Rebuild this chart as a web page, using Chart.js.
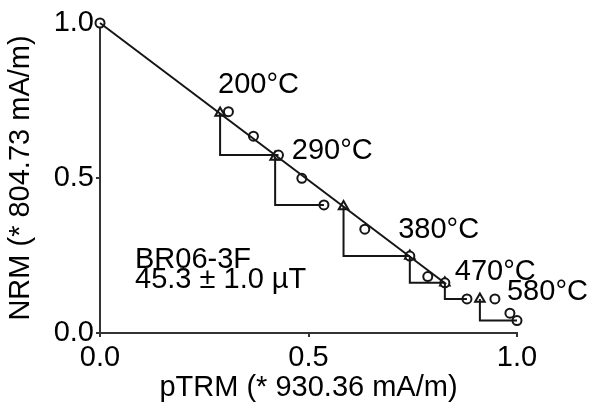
<!DOCTYPE html>
<html lang="en">
<head>
<meta charset="UTF-8">
<title>Arai plot BR06-3F</title>
<script src="https://cdn.jsdelivr.net/npm/chart.js@4.4.0/dist/chart.umd.min.js"></script>
<style>
  html, body { margin: 0; padding: 0; background: #fff; }
  #wrap { width: 595px; height: 409px; }
</style>
</head>
<body>
<div id="wrap"><canvas id="arai"></canvas></div>
<script>
// NRM remaining vs pTRM gained (normalised)
var ptrm = [0.0, 0.308, 0.368, 0.428, 0.484, 0.537, 0.635, 0.743, 0.786, 0.827, 0.880, 0.947, 0.983, 1.0];
var nrm  = [1.0, 0.714, 0.635, 0.574, 0.499, 0.413, 0.335, 0.248, 0.182, 0.162, 0.110, 0.110, 0.064, 0.040];

// pTRM checks and the step they are compared against
var checkX = [0.288, 0.420, 0.584, 0.743, 0.827, 0.911];
var checkY = [0.710, 0.568, 0.408, 0.248, 0.162, 0.110];
var checkTo = [3, 5, 7, 9, 10, 13];

// best-fit segment
var fitX = [0.0, 0.83];
var fitY = [1.0, 0.158];

var tickVals = [0, 0.5, 1.0];

var tempText = ['200°C', '290°C', '380°C', '470°C', '580°C'];
var tempAt = [[0.283, 0.774], [0.460, 0.561], [0.715, 0.306], [0.851, 0.171], [0.976, 0.106]];
var infoText = ['BR06-3F', '45.3 ± 1.0 µT'];
var infoAt = [[0.084, 0.210], [0.084, 0.145]];

var ink = '#151515';
var font = '"Liberation Sans", Arial, sans-serif';

var circles = ptrm.map(function (x, i) { return { x: x, y: nrm[i] }; });
var triangles = checkX.map(function (x, i) { return { x: x, y: checkY[i] }; });
var fitLine = fitX.map(function (x, i) { return { x: x, y: fitY[i] }; });

// step lines: down from the check, then across to the NRM point
var steps = [];
checkX.forEach(function (x, i) {
  var j = checkTo[i];
  steps.push({ x: x, y: checkY[i] });
  steps.push({ x: x, y: nrm[j] });
  steps.push({ x: ptrm[j], y: nrm[j] });
  steps.push({ x: ptrm[j], y: null });
});

var labelsPlugin = {
  id: 'textLabels',
  afterDatasetsDraw: function (chart) {
    var c = chart.ctx, xs = chart.scales.x, ys = chart.scales.y;
    c.save();
    c.fillStyle = '#000';
    c.font = '29px ' + font;
    c.textAlign = 'left';
    c.textBaseline = 'alphabetic';
    tempText.forEach(function (t, i) {
      c.fillText(t, xs.getPixelForValue(tempAt[i][0]), ys.getPixelForValue(tempAt[i][1]));
    });
    infoText.forEach(function (t, i) {
      c.fillText(t, xs.getPixelForValue(infoAt[i][0]), ys.getPixelForValue(infoAt[i][1]));
    });
    c.restore();
  }
};

var axisCommon = {
  type: 'linear',
  min: 0,
  max: 1,
  afterBuildTicks: function (s) { s.ticks = tickVals.map(function (v) { return { value: v }; }); },
  grid: { drawOnChartArea: false, drawTicks: true, tickLength: 4, color: '#333', lineWidth: 2 },
  border: { display: true, color: '#333', width: 2 },
  ticks: {
    color: '#000',
    font: { family: font, size: 29 },
    padding: 2,
    callback: function (v) { return Number(v).toFixed(1); }
  }
};

new Chart(document.getElementById('arai'), {
  type: 'scatter',
  data: {
    datasets: [
      { data: fitLine, showLine: true, borderColor: ink, borderWidth: 2, pointRadius: 0, clip: false },
      { data: steps, showLine: true, spanGaps: false, borderColor: ink, borderWidth: 2, pointRadius: 0, clip: false },
      { data: circles, pointStyle: 'circle', pointRadius: 4.5, borderWidth: 2, borderColor: ink, backgroundColor: '#fff', clip: false },
      { data: triangles, pointStyle: 'triangle', pointRadius: 5.5, borderWidth: 2, borderColor: ink, backgroundColor: '#fff', clip: false }
    ]
  },
  options: {
    responsive: true,
    maintainAspectRatio: false,
    animation: false,
    layout: { padding: { top: 23, right: 78, left: 0, bottom: 0 } },
    plugins: { legend: { display: false }, tooltip: { enabled: false } },
    scales: {
      x: Object.assign({}, axisCommon, {
        afterFit: function (s) { s.height = 76; },
        ticks: Object.assign({}, axisCommon.ticks, { padding: 4 }),
        title: { display: true, text: 'pTRM (* 930.36 mA/m)', color: '#000', font: { family: font, size: 29 }, padding: { top: 0 } }
      }),
      y: Object.assign({}, axisCommon, {
        afterFit: function (s) { s.width = 100; },
        title: { display: true, text: 'NRM (* 804.73 mA/m)', color: '#000', font: { family: font, size: 29 }, padding: { bottom: 0 } }
      })
    }
  },
  plugins: [labelsPlugin]
});
</script>
</body>
</html>
